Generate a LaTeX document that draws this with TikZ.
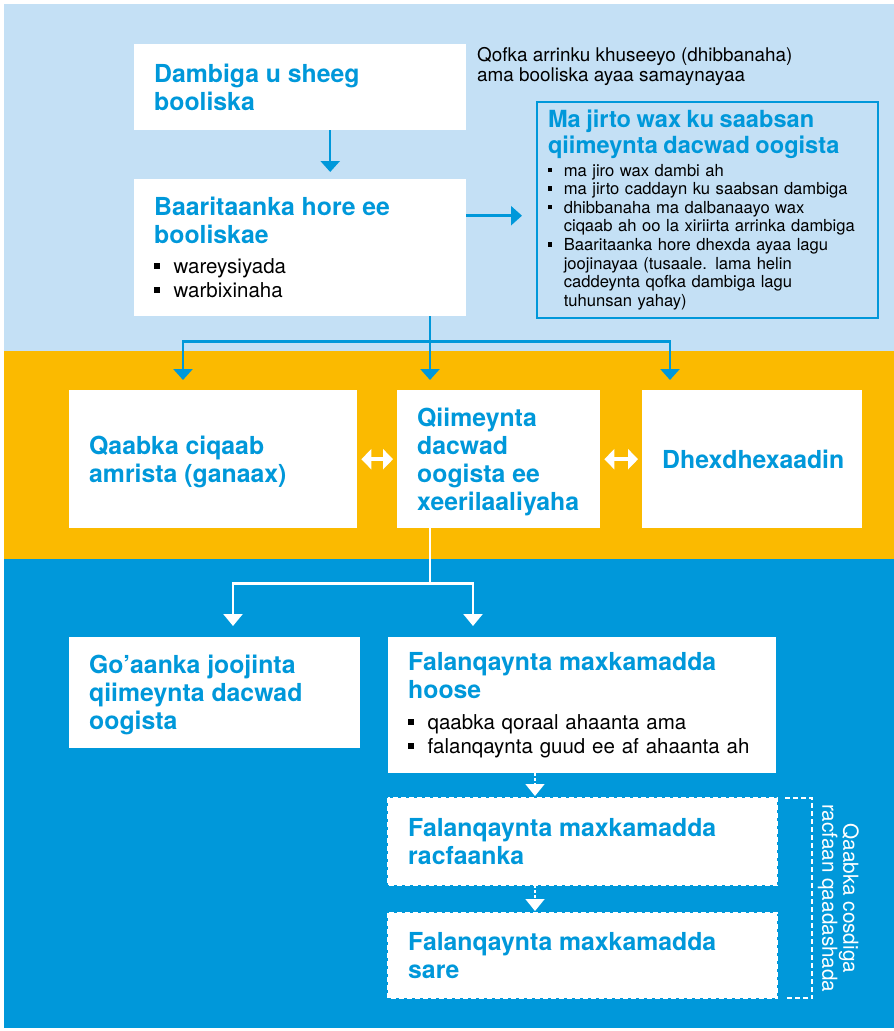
\documentclass[tikz,border=0pt]{standalone}
\usepackage{fontspec}
\setmainfont{TeX Gyre Heros}
\usetikzlibrary{arrows.meta, positioning, calc}
\definecolor{skyband}{HTML}{C4E0F5}
\definecolor{amberband}{HTML}{FBBA00}
\definecolor{seablue}{HTML}{0098DA}

\newcommand\ttl[1]{{\bfseries\color{seablue}\fontsize{24.8}{28}\selectfont
  #1\par\vskip-\prevdepth\prevdepth=0pt}}
\newcommand\bsq{\rule[.24em]{.27em}{.27em}}
\newcommand\bitem[1]{\par\noindent\makebox[.95em][l]{\bsq}#1}
\newcommand\bcont[1]{\par\noindent\hspace*{.95em}#1}

\begin{document}
\begin{tikzpicture}[
        x=1pt, y=-1pt,
        box/.style={fill=white, inner xsep=20pt, inner ysep=0pt,
                    anchor=north west, align=left,
                    font=\fontsize{20.5}{24}\selectfont},
        conn/.style={seablue, line width=2.5pt,
                     -{Triangle[width=19pt,length=11pt]}},
        wconn/.style={white, line width=2.3pt,
                      -{Triangle[width=19pt,length=12pt]}},
        dconn/.style={white, line width=1.6pt, dash pattern=on 3pt off 2pt,
                      -{Triangle[width=19pt,length=12pt]}},
        dbl/.style={white, line width=4pt, shorten <=4pt, shorten >=4pt,
                    {Triangle[width=20pt,length=10pt]}-{Triangle[width=20pt,length=10pt]}},
        wdash/.style={white, line width=2pt, dash pattern=on 5pt off 3pt}
      ]
      \useasboundingbox (0,0) rectangle (894,1031);
      % bands
      \fill[skyband]   (4,4) rectangle (894,351);
      \fill[amberband] (4,351) rectangle (894,559);
      \fill[seablue]   (4,559) rectangle (894,1028);

      % top band
      \node[box, text width=292pt, minimum height=86pt] (b1) at (134,44)
        {\ttl{Dambiga u sheeg\\ booliska}};
      \node[box, text width=292pt, minimum height=137pt] (b2) at (134,179)
        {\ttl{Baaritaanka hore ee\\ booliskae}\vspace{6pt}
         \bitem{wareysiyada}
         \bitem{warbixinaha}};
      \node[anchor=north west, inner sep=0pt, align=left,
            font=\fontsize{18.9}{20}\selectfont] (who) at (477,47)
        {Qofka arrinku khuseeyo (dhibbanaha)\\ ama booliska ayaa samaynayaa};
      \node[box, fill=skyband, draw=seablue, line width=2pt,
            inner xsep=11pt, text width=319pt, minimum height=216pt,
            font=\fontsize{16.6}{18.6}\selectfont] (nb) at (536,101)
        {{\bfseries\color{seablue}\fontsize{23.6}{26}\selectfont
          Ma jirto wax ku saabsan\\ qiimeynta dacwad oogista\par}\vspace{4pt}
         \bitem{ma jiro wax dambi ah}
         \bitem{ma jirto caddayn ku saabsan dambiga}
         \bitem{dhibbanaha ma dalbanaayo wax}
         \bcont{ciqaab ah oo la xiriirta arrinka dambiga}
         \bitem{Baaritaanka hore dhexda ayaa lagu}
         \bcont{joojinayaa (tusaale. lama helin}
         \bcont{caddeynta qofka dambiga lagu}
         \bcont{tuhunsan yahay)}\par\vskip-\prevdepth\vskip-2pt};

      % middle band
      \node[box, text width=248pt, minimum height=138pt] (qa) at (69,390)
        {\ttl{Qaabka ciqaab\\ amrista (ganaax)}};
      \node[box, text width=163pt, minimum height=138pt] (qb) at (397,390)
        {\ttl{Qiimeynta\\ dacwad\\ oogista ee\\ xeerilaaliyaha}};
      \node[box, text width=180pt, minimum height=138pt] (qc) at (642,390)
        {\ttl{Dhexdhexaadin}};

      % bottom band
      \node[box, text width=251pt, minimum height=111pt] (gd) at (69,637)
        {\ttl{Go’aanka joojinta\\ qiimeynta dacwad\\ oogista}};
      \node[box, text width=348pt, minimum height=136pt] (fe) at (388,637)
        {\ttl{Falanqaynta maxkamadda\\ hoose}\vspace{7pt}
         \bitem{qaabka qoraal ahaanta ama}
         \bitem{falanqaynta guud ee af ahaanta ah}};
      \node[box, text width=349pt, minimum height=87pt] (ff) at (388,798)
        {\ttl{Falanqaynta maxkamadda\\ racfaanka}};
      \node[box, text width=349pt, minimum height=85pt] (fg) at (388,913)
        {\ttl{Falanqaynta maxkamadda\\ sare}};
      \draw[wdash] (ff.north west) rectangle (ff.south east);
      \draw[wdash] (fg.north west) rectangle (fg.south east);

      % appeal bracket
      \draw[wdash] ($(ff.north east)+(8,0)$) -| ($(fg.south east)+(35,0)$)
        -- ($(fg.south east)+(8,0)$);
      \node[rotate=-90, align=center, text=white, inner sep=0pt,
            font=\fontsize{20.7}{21}\selectfont] (appeal)
        at ($(ff.north east)!0.5!(fg.south east)+(61,0)$)
        {Qaabka cosdiga\\ racfaan qaadashada};

      % connectors
      \coordinate (a1) at ($(b1.south)+(30,0)$);
      \draw[conn, shorten >=7pt] (a1) -- (a1 |- b2.north);
      \coordinate (a2) at ($(b2.east)+(0,-32)$);
      \draw[conn, shorten >=14pt] (a2) -- (a2 -| nb.west);

      \coordinate (fork) at ($(b2.south west)+(296,25)$);
      \draw[conn, -, line cap=butt] (b2.south -| fork) -- (fork);
      \draw[conn, shorten >=10pt] (fork) -- (fork |- qb.north);
      \draw[conn, shorten >=10pt] (fork) -| ($(qa.north west)+(114,0)$);
      \draw[conn, shorten >=10pt] (fork) -| ($(qc.north west)+(28,0)$);

      \draw[dbl] (qa.east) -- (qb.west);
      \draw[dbl] (qb.east) -- (qc.west);

      \coordinate (wfork) at ($(qb.south west)+(33,55)$);
      \draw[wconn, -, line cap=butt] (qb.south -| wfork) -- (wfork);
      \draw[wconn, shorten >=11pt] (wfork) -| ($(gd.north west)+(164,0)$);
      \draw[wconn, shorten >=11pt] (wfork) -| ($(fe.north west)+(85,0)$);

      \coordinate (d1) at ($(fe.south west)+(147,0)$);
      \draw[dconn, shorten >=2pt] (d1) -- (d1 |- ff.north);
      \draw[dconn, shorten >=2pt] (d1 |- ff.south) -- (d1 |- fg.north);
    \end{tikzpicture}
\end{document}
